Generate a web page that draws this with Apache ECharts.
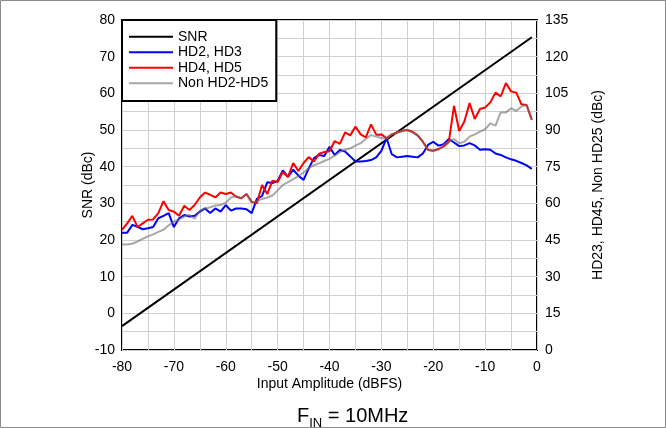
<!DOCTYPE html>
<html><head><meta charset="utf-8">
<script src="https://cdn.jsdelivr.net/npm/echarts@6/dist/echarts.min.js"></script>
<style>html,body{margin:0;padding:0;background:#fff}#c{width:666px;height:428px}</style>
</head><body><div id="c"></div>
<script>
// Input amplitude (dBFS)
const inputAmplitude = [-80,-79,-78,-77,-76,-75,-74,-73,-72,-71,-70,-69,-68,-67,-66,-65,-64,-63,-62,-61,
  -60,-59,-58,-57,-56,-55,-54,-53,-52,-51,-50,-49,-48,-47,-46,-45,-44,-43,-42,-41,
  -40,-39,-38,-37,-36,-35,-34,-33,-32,-31,-30,-29,-28,-27,-26,-25,-24,-23,-22,-21,
  -20,-19,-18,-17,-16,-15,-14,-13,-12,-11,-10,-9,-8,-7,-6,-5,-4,-3,-2,-1];
// SNR (dBc), left axis
const snrAmplitude = [-80, -1];
const snr = [-3.5, 75.3];
// HD2,HD3 (dBc), right axis
const hd23 = [48.0,48.0,51.2,50.4,49.4,49.8,50.3,53.9,54.9,56.0,
  50.3,53.9,55.2,54.6,54.9,56.6,57.9,56.0,57.9,56.6,
  59.3,57.0,57.9,57.9,57.6,56.0,61.8,63.0,68.6,68.3,
  69.2,73.5,70.8,73.8,71.3,69.6,74.3,78.5,79.8,79.4,
  83.1,79.8,81.8,81.2,79.2,77.1,77.1,77.3,77.7,78.8,
  81.5,86.7,80.1,78.8,79.1,79.4,79.1,78.8,80.4,83.9,
  85.2,83.6,84.2,86.3,84.9,83.4,83.7,84.6,83.7,81.9,
  82.1,81.9,80.4,79.8,78.8,78.0,77.4,76.5,75.5,74.1];
// HD4,HD5 (dBc), right axis
const hd45 = [49.1,51.8,54.9,50.3,51.8,53.3,53.4,56.0,60.9,57.3,
  56.6,54.9,59.0,57.3,59.3,62.4,64.4,63.5,62.4,64.4,
  63.8,64.4,62.7,62.1,63.8,60.6,60.0,67.5,63.8,69.3,
  68.7,72.8,70.8,76.5,73.2,76.5,78.9,77.1,80.3,81.0,
  81.3,85.5,84.3,89.0,87.8,91.4,88.2,87.0,92.3,88.1,
  88.2,86.6,88.2,89.0,89.7,90.0,89.3,87.8,85.2,81.8,
  81.5,82.2,83.3,85.1,99.9,89.6,93.5,101.0,94.5,98.6,
  99.2,101.3,105.3,103.7,109.2,105.8,105.3,100.5,100.2,94.2];
// Non HD2-HD5 (dBc), right axis
const nonHd25 = [43.2,43.2,43.5,44.4,45.5,46.5,47.3,48.3,49.2,51.0,
  52.5,53.3,54.6,55.2,53.7,57.0,57.9,58.4,59.1,59.3,
  60.3,62.4,63.0,62.0,63.8,60.3,60.9,61.8,62.4,63.2,
  65.3,67.5,68.7,69.9,71.1,72.6,74.4,75.6,76.4,77.3,
  78.2,79.5,81.0,81.9,82.5,83.6,84.6,86.3,87.9,87.3,
  86.7,86.4,88.2,88.8,89.7,90.0,89.0,87.6,85.2,81.8,
  81.5,81.9,83.9,85.2,86.3,84.6,85.2,87.3,88.2,89.3,
  90.3,92.7,91.8,97.2,97.2,98.9,97.8,99.6,100.2,94.1];

const FONT = '"Liberation Sans", Arial, sans-serif';
const pairs = (xs, ys) => xs.map((x, i) => [x, ys[i]]);
const gridColor = '#cfcfcf';
const hiddenAxis = {
  axisLine: {show: false}, axisTick: {show: false}, axisLabel: {show: false},
  splitLine: {show: true, lineStyle: {color: gridColor, width: 1}}
};

const chart = echarts.init(document.getElementById('c'), null, {renderer: 'canvas'});
chart.setOption({
  animation: false,
  backgroundColor: '#fff',
  textStyle: {fontFamily: FONT, color: '#000'},
  graphic: [{
    type: 'rect', silent: true, z: -10,
    shape: {x: 0.5, y: 0.5, width: 665, height: 427},
    style: {fill: null, stroke: '#8a8a8a', lineWidth: 1}
  }],
  title: {
    text: '{a|F}{s|IN}{a| = 10MHz}',
    left: 292, top: 401,
    textStyle: {
      fontWeight: 'normal',
      rich: {
        a: {fontSize: 20, fontFamily: FONT, fontWeight: 'normal', color: '#000', lineHeight: 26, verticalAlign: 'top'},
        s: {fontSize: 13, fontFamily: FONT, fontWeight: 'normal', color: '#000', lineHeight: 13, verticalAlign: 'bottom', padding: [0, 0, 2, 0]}
      }
    }
  },
  legend: {
    left: 122, top: 20, orient: 'vertical', icon: 'rect',
    backgroundColor: '#fff', borderColor: '#000', borderWidth: 2, borderRadius: 0,
    padding: [9, 8, 10, 7], itemGap: 0, itemWidth: 44, itemHeight: 2,
    textStyle: {fontSize: 14, lineHeight: 15.5, fontFamily: FONT, color: '#000'},
    data: ['SNR', 'HD2, HD3', 'HD4, HD5', 'Non HD2-HD5']
  },
  grid: {left: 122, right: 129, top: 20, bottom: 78, show: true, borderColor: '#000', borderWidth: 2, backgroundColor: 'transparent'},
  xAxis: [{
    type: 'value', min: -80, max: 0, interval: 10,
    axisLine: {show: false}, axisTick: {show: false},
    splitLine: {show: true, lineStyle: {color: gridColor, width: 1}},
    axisLabel: {fontSize: 14, color: '#000', margin: 10, fontFamily: FONT},
    name: 'Input Amplitude (dBFS)', nameLocation: 'middle', nameGap: 27, nameMoveOverlap: false,
    nameTextStyle: {fontSize: 14, color: '#000', fontFamily: FONT}
  }, Object.assign({type: 'value', min: -80, max: 0, interval: 5, position: 'bottom'}, hiddenAxis)],
  yAxis: [{
    type: 'value', min: -10, max: 80, interval: 10, position: 'left',
    axisLine: {show: false}, axisTick: {show: false},
    splitLine: {show: true, lineStyle: {color: gridColor, width: 1}},
    axisLabel: {fontSize: 14, color: '#000', margin: 7, fontFamily: FONT},
    name: 'SNR (dBc)', nameLocation: 'middle', nameGap: 27, nameRotate: 90, nameMoveOverlap: false,
    nameTextStyle: {fontSize: 14, color: '#000', fontFamily: FONT}
  }, {
    type: 'value', min: 0, max: 135, interval: 15, position: 'right',
    axisLine: {show: false}, axisTick: {show: false}, splitLine: {show: false},
    axisLabel: {fontSize: 14, color: '#000', margin: 8, fontFamily: FONT},
    name: 'HD23, HD45, Non HD25 (dBc)', nameLocation: 'middle', nameGap: 54, nameRotate: 90, nameMoveOverlap: false,
    nameTextStyle: {fontSize: 14, color: '#000', fontFamily: FONT}
  }, Object.assign({type: 'value', min: -10, max: 80, interval: 5, position: 'left'}, hiddenAxis)],
  series: [
    {name: 'SNR', type: 'line', yAxisIndex: 0, symbol: 'none', data: pairs(snrAmplitude, snr),
     lineStyle: {color: '#000', width: 2}, itemStyle: {color: '#000'}, z: 3},
    {name: 'HD2, HD3', type: 'line', yAxisIndex: 1, symbol: 'none', data: pairs(inputAmplitude, hd23),
     lineStyle: {color: '#0000ff', width: 2}, itemStyle: {color: '#0000ff'}, z: 4},
    {name: 'HD4, HD5', type: 'line', yAxisIndex: 1, symbol: 'none', data: pairs(inputAmplitude, hd45),
     lineStyle: {color: '#ff0000', width: 2}, itemStyle: {color: '#ff0000'}, z: 5},
    {name: 'Non HD2-HD5', type: 'line', yAxisIndex: 1, symbol: 'none', data: pairs(inputAmplitude, nonHd25),
     lineStyle: {color: '#6e6e6e', width: 2, opacity: 0.6}, itemStyle: {color: '#a6a6a6'}, z: 6}
  ]
});
</script></body></html>
